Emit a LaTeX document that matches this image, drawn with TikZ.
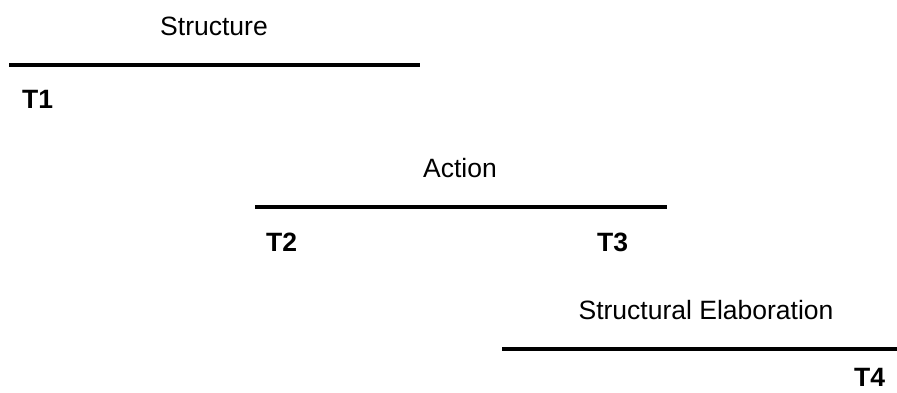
\documentclass[tikz,border=0pt]{standalone}
\usepackage{fontspec}
\setmainfont{Liberation Sans}
\begin{document}
\begin{tikzpicture}[x=1pt,y=-1pt,
phase/.style={line width=4pt},
phaselabel/.style={anchor=base,inner sep=0pt,font=\fontsize{26.5}{30}\selectfont},
timelabel/.style={anchor=base west,inner sep=0pt,font=\fontsize{26.5}{30}\selectfont\bfseries},]
\useasboundingbox[fill=white] (0,0) rectangle (897,392);
% the three phases
\coordinate (s start) at (9,65);
\coordinate (s end) at (420,65);
\coordinate (a start) at (255,207);
\coordinate (a end) at (667,207);
\coordinate (e start) at (502,349);
\coordinate (e end) at (897,349);
\draw[phase] (s start) -- (s end);
\draw[phase] (a start) -- (a end);
\draw[phase] (e start) -- (e end);
\node[phaselabel] (structure) at (214,35) {Structure};
\node[phaselabel] (action) at (460,177) {Action};
\node[phaselabel] (elaboration) at (706,319) {Structural Elaboration};
% time points
\node[timelabel] (t1) at (22,108) {T1};
\node[timelabel] (t2) at (266,251) {T2};
\node[timelabel] (t3) at (597,251) {T3};
\node[timelabel] (t4) at (854,386) {T4};
\end{tikzpicture}
\end{document}
